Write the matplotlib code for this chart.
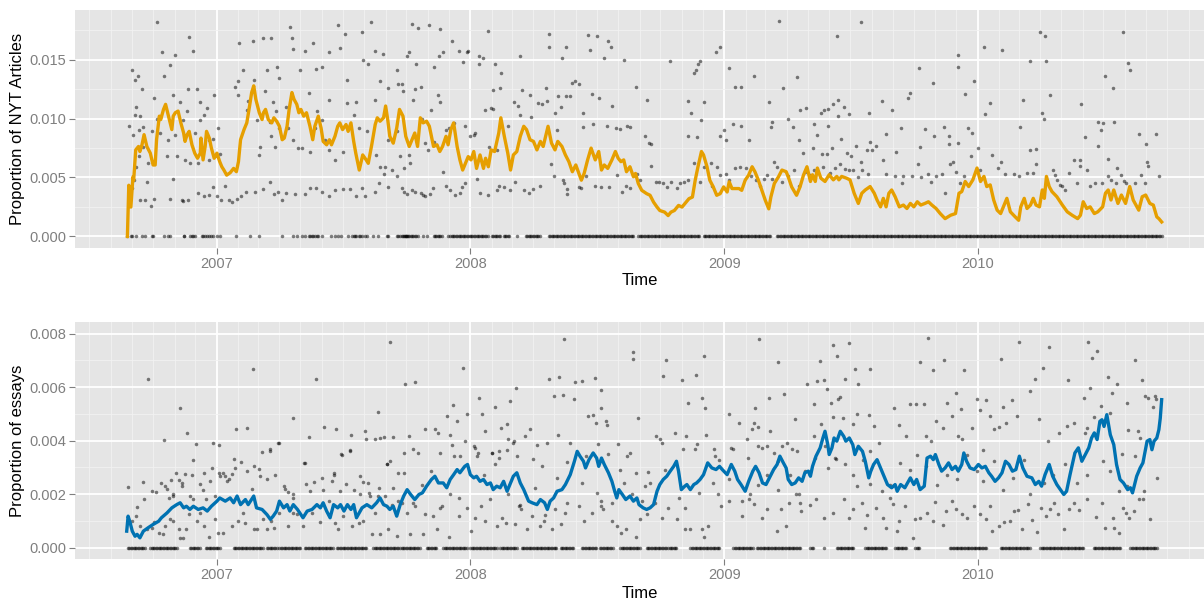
import numpy as np
import matplotlib
matplotlib.use("Agg")
import matplotlib.pyplot as plt
import matplotlib.dates as mdates

plt.rcParams['font.family'] = ['Liberation Sans', 'DejaVu Sans']

# day offsets are counted from this date, proportions are stored per mille
START = "2006-08-24"

# ---- top panel: NYT articles ----
nyt_line = [
    (1, 0), (3, 4.34), (6, 2.49), (9, 5.06), (10, 4.77), (13, 7.34), (17, 7.63), (19, 7.2), (22, 7.77),
    (25, 8.63), (29, 7.63), (34, 7.06), (38, 6.06), (41, 6.06), (43, 8.2), (47, 10.2), (49, 9.91),
    (53, 10.77), (56, 11.2), (59, 10.49), (62, 9.77), (65, 9.06), (67, 10.2), (70, 10.49), (74, 10.63),
    (78, 9.63), (82, 8.77), (84, 8.06), (87, 8.63), (90, 8.91), (94, 7.77), (98, 7.06), (102, 6.63),
    (106, 7.06), (107, 8.34), (110, 6.49), (113, 7.63), (115, 8.91), (119, 8.34), (122, 7.49), (126, 6.63),
    (130, 7.06), (134, 6.34), (137, 5.91), (140, 5.63), (144, 5.2), (149, 5.4), (154, 5.77), (158, 5.49),
    (161, 6.34), (164, 8.2), (169, 9.06), (173, 9.63), (177, 11.06), (180, 12.2), (183, 12.77), (186, 11.63),
    (191, 10.49), (195, 9.91), (197, 10.49), (200, 10.77), (204, 9.91), (209, 9.63), (212, 10.06), (216, 9.77),
    (220, 9.34), (224, 8.2), (227, 8.34), (231, 9.34), (234, 10.77), (238, 12.2), (241, 11.63), (245, 11.2),
    (248, 10.49), (251, 10.77), (255, 10.2), (259, 10.49), (264, 9.34), (268, 8.2), (271, 9.34), (276, 10.2),
    (280, 9.2), (283, 8.06), (288, 7.77), (292, 8.2), (295, 7.77), (300, 8.49), (304, 9.34), (307, 9.63),
    (311, 9.06), (316, 9.49), (319, 8.91), (323, 9.63), (327, 8.06), (330, 7.06), (335, 5.63), (340, 6.91),
    (345, 6.49), (348, 6.2), (353, 7.77), (358, 9.49), (361, 10.06), (365, 9.77), (370, 10.06), (373, 11.06),
    (376, 9.91), (379, 8.49), (384, 7.91), (389, 9.2), (393, 10.77), (398, 10.2), (402, 8.49), (407, 7.63),
    (411, 8.2), (415, 8.77), (419, 7.63), (423, 10.06), (427, 9.63), (432, 9.77), (436, 9.34), (442, 7.63),
    (447, 7.77), (451, 7.2), (455, 7.63), (460, 8.49), (463, 7.77), (467, 9.06), (471, 9.63), (476, 7.63),
    (480, 6.49), (484, 5.63), (488, 6.2), (492, 6.77), (496, 6.49), (500, 7.2), (504, 5.77), (509, 6.91),
    (514, 5.77), (517, 6.63), (521, 5.91), (525, 7.34), (530, 7.2), (536, 8.77), (539, 10.06), (544, 8.49),
    (549, 7.06), (553, 5.63), (557, 6.91), (562, 7.2), (567, 8.49), (572, 9.34), (576, 9.06), (581, 8.2),
    (586, 8.06), (591, 7.34), (596, 8.06), (600, 7.63), (607, 9.34), (612, 7.91), (617, 7.34), (621, 8.06),
    (627, 7.63), (632, 6.91), (637, 6.34), (642, 5.49), (647, 6.06), (655, 4.77), (659, 5.34), (664, 6.49),
    (669, 7.49), (675, 6.49), (680, 7.2), (684, 5.63), (688, 6.06), (693, 5.77), (699, 6.49), (704, 7.2),
    (708, 6.63), (712, 6.34), (716, 6.49), (720, 5.49), (725, 5.91), (730, 5.06), (733, 5.34), (737, 4.49),
    (742, 3.91), (749, 3.63), (754, 3.49), (759, 2.91), (764, 2.49), (768, 2.2), (775, 2.06), (780, 1.77),
    (784, 2.06), (789, 2.2), (795, 2.63), (800, 2.49), (804, 2.77), (810, 3.2), (815, 3.34), (819, 4.77),
    (823, 5.91), (828, 7.2), (831, 6.91), (836, 5.91), (840, 4.77), (845, 4.2), (850, 3.49), (855, 3.63),
    (860, 4.2), (865, 3.77), (868, 4.63), (872, 4.06), (877, 4.06), (882, 4.06), (886, 3.91), (891, 4.77),
    (896, 5.2), (901, 5.91), (905, 5.49), (910, 4.77), (915, 3.91), (920, 3.06), (925, 2.34), (928, 3.34),
    (933, 4.49), (939, 5.06), (944, 5.63), (950, 5.49), (953, 5.06), (958, 4.2), (965, 3.49), (970, 4.2),
    (975, 5.2), (980, 5.91), (985, 4.66), (988, 5.23), (992, 4.66), (995, 5.8), (1000, 4.94), (1006, 4.66),
    (1012, 5.23), (1018, 4.8), (1023, 5.09), (1026, 4.8), (1030, 5.09), (1037, 4.94), (1042, 4.8), (1048, 3.66),
    (1054, 2.8), (1059, 3.66), (1064, 3.94), (1071, 4.23), (1077, 3.66), (1081, 3.09), (1086, 2.51), (1090, 3.23),
    (1094, 2.51), (1098, 3.66), (1102, 3.94), (1107, 3.37), (1113, 2.51), (1119, 2.66), (1124, 2.37), (1129, 2.8),
    (1134, 2.51), (1139, 2.94), (1144, 2.66), (1150, 2.8), (1155, 2.94), (1160, 2.66), (1166, 2.37), (1172, 1.94),
    (1179, 1.51), (1187, 1.8), (1194, 1.94), (1199, 3.66), (1203, 3.8), (1208, 4.66), (1213, 4.23), (1219, 4.8),
    (1225, 5.8), (1230, 4.66), (1235, 5.09), (1239, 4.23), (1244, 4.37), (1249, 3.09), (1254, 2.23), (1259, 1.94),
    (1263, 2.51), (1268, 3.23), (1273, 2.09), (1280, 1.66), (1285, 1.37), (1288, 2.51), (1293, 3.23), (1297, 2.37),
    (1302, 2.66), (1306, 3.23), (1310, 2.66), (1315, 2.51), (1319, 3.94), (1322, 3.23), (1325, 5.09), (1329, 4.23),
    (1333, 3.8), (1340, 3.37), (1348, 2.66), (1355, 2.09), (1362, 1.8), (1370, 1.51), (1374, 1.8), (1378, 2.94),
    (1383, 2.37), (1388, 2.51), (1394, 1.94), (1399, 2.09), (1406, 2.51), (1410, 3.66), (1414, 3.94), (1418, 3.09),
    (1422, 3.94), (1428, 2.8), (1433, 3.51), (1439, 2.8), (1445, 4.23), (1450, 3.09), (1458, 2.23), (1463, 3.37),
    (1468, 3.51), (1474, 2.8), (1479, 2.66), (1484, 1.66), (1487, 1.51), (1491, 1.23),
]

nyt_points = [
    (44, 18.2), (51, 15.6), (70, 15.4), (90, 16.9), (96, 15.7), (62, 14.5), (54, 13.6), (8, 14.1), (12, 13.3),
    (16, 13.6), (22, 12.5), (39, 11.7), (67, 12.0), (77, 11.4), (88, 12.5), (101, 12.5), (106, 11.4), (126, 12.0),
    (116, 10.9), (13, 11.0), (12, 10.3), (19, 10.2), (4, 9.4), (9, 8.6), (18, 9.0), (23, 9.3), (36, 8.9), (43, 10.0),
    (48, 8.8), (60, 8.2), (70, 8.6), (81, 9.9), (87, 10.6), (99, 8.8), (105, 9.9), (111, 10.3), (118, 8.2),
    (125, 8.3), (132, 9.2), (24, 7.6), (31, 6.2), (18, 6.8), (14, 5.9), (29, 4.6), (58, 6.8), (72, 6.8), (84, 6.5),
    (91, 6.2), (103, 6.2), (118, 6.5), (130, 6.8), (135, 7.0),
    (7, 4.1), (11, 4.8), (19, 3.1), (26, 3.1), (35, 2.6), (40, 3.2), (62, 3.2), (67, 4.9), (79, 3.1), (81, 3.0),
    (89, 3.1), (103, 3.7), (111, 3.4), (119, 3.5), (125, 4.2), (130, 3.4), (136, 3.1), (142, 4.3), (147, 3.1),
    (151, 2.9), (159, 3.2), (164, 3.4),
    (162, 16.4), (182, 16.6), (197, 16.8), (208, 16.8), (235, 17.8), (238, 16.8), (240, 15.9), (257, 15.7),
    (269, 16.4), (305, 17.9), (315, 17.2), (339, 17.3), (352, 18.2), (307, 16.0), (291, 15.6), (341, 15.0),
    (348, 14.6), (358, 15.7), (369, 15.5),
    (160, 13.2), (168, 14.1), (183, 13.3), (202, 14.1), (216, 14.4), (220, 13.4), (250, 14.1), (273, 14.2),
    (281, 14.4), (317, 13.3), (365, 13.2), (389, 14.1),
    (156, 12.7), (161, 12.0), (175, 11.5), (199, 12.3), (211, 11.4), (215, 10.6), (230, 11.0), (262, 12.2),
    (274, 10.6), (291, 11.6), (317, 11.3), (331, 11.4), (358, 11.6), (377, 12.6), (391, 12.9),
    (174, 10.7), (187, 9.9), (192, 7.6), (190, 6.9), (206, 9.7), (208, 8.5), (214, 7.6), (219, 9.2), (233, 9.2),
    (240, 8.2), (247, 7.5), (252, 7.5), (264, 7.2), (271, 9.2), (281, 9.9), (286, 8.2), (291, 7.3), (300, 6.5),
    (312, 7.2), (327, 10.3), (334, 9.2), (346, 8.9), (359, 6.9), (365, 5.9), (372, 5.9), (377, 8.2), (389, 8.9),
    (172, 3.8), (185, 3.8), (197, 4.0), (207, 4.6), (212, 3.6), (218, 3.8), (223, 3.1), (230, 3.7), (243, 3.6),
    (257, 3.6), (264, 4.1), (273, 4.1), (282, 3.8), (291, 3.4), (300, 3.9), (311, 4.0), (321, 4.0), (330, 3.4),
    (339, 4.1), (343, 3.4), (358, 3.8), (363, 4.5), (370, 5.3), (376, 4.2), (382, 5.6), (389, 5.1),
    (411, 18.0), (420, 17.7), (436, 17.9), (452, 17.6), (468, 16.6), (443, 14.4), (456, 15.6), (450, 15.3),
    (478, 15.7), (490, 15.6), (492, 15.7), (485, 14.8), (508, 15.3), (513, 15.1), (508, 14.6), (520, 17.4),
    (531, 14.6), (539, 13.9), (566, 15.3), (608, 17.2), (608, 16.1), (627, 15.1), (633, 16.1), (665, 17.1),
    (677, 17.0), (668, 15.8), (694, 16.6), (697, 16.1), (687, 15.1), (716, 15.0), (734, 12.7), (750, 11.6),
    (782, 14.9), (808, 11.5), (817, 13.9), (820, 14.1), (823, 14.6), (826, 14.9), (849, 15.6), (855, 16.1),
    (867, 14.3), (877, 12.7), (885, 12.7), (903, 13.6), (940, 18.3), (946, 12.6), (966, 13.5),
    (396, 12.9), (398, 12.3), (404, 15.3), (407, 15.6), (416, 12.5), (417, 14.6), (424, 12.7),
    (394, 6.8), (406, 6.9), (408, 6.2), (425, 10.0), (430, 7.9), (434, 7.3), (439, 10.7), (442, 8.0), (448, 12.0),
    (451, 11.4), (455, 5.5), (460, 9.0), (464, 9.2), (471, 9.6), (488, 9.4), (495, 8.5), (500, 8.6), (502, 8.8),
    (516, 10.7), (525, 10.9), (527, 10.8), (528, 12.4), (538, 12.6), (522, 7.6), (533, 7.3), (549, 9.4),
    (558, 11.4), (564, 11.1), (570, 12.4), (581, 12.0), (583, 10.1), (567, 10.3), (592, 11.3), (599, 11.2),
    (604, 12.6), (605, 11.5), (617, 10.5), (621, 11.9), (625, 11.0), (620, 9.0), (633, 11.9), (638, 11.9),
    (641, 13.0), (646, 13.2), (651, 12.9), (658, 10.5), (657, 9.3), (672, 9.5), (671, 12.1), (681, 11.7),
    (692, 9.4), (699, 11.1), (705, 9.2), (710, 9.1), (721, 9.4), (725, 9.3), (747, 8.5), (752, 7.9), (755, 7.8),
    (808, 8.5), (813, 10.5), (821, 8.4), (828, 9.9), (831, 11.4), (842, 6.2), (855, 8.5), (861, 9.0), (863, 8.2),
    (873, 9.5), (885, 9.4), (896, 8.2), (925, 11.4), (928, 9.3), (930, 9.7), (952, 10.0), (960, 9.3), (969, 8.2),
    (399, 5.8), (413, 11.6),
    (396, 4.1), (399, 3.8), (404, 3.6), (411, 3.9), (416, 3.8), (424, 3.7), (427, 3.5), (430, 3.4), (437, 3.6),
    (441, 4.1), (460, 4.3), (466, 3.9), (473, 3.5), (480, 3.7), (483, 4.2), (488, 4.5), (505, 4.9), (509, 3.7),
    (521, 3.5), (533, 3.9), (537, 4.3), (543, 4.2), (552, 3.9), (560, 4.6), (572, 3.9), (579, 3.7), (585, 4.0),
    (596, 4.3), (611, 6.1), (615, 5.1), (628, 4.8), (630, 4.5), (634, 4.0), (635, 3.6), (652, 4.2), (655, 4.1),
    (662, 5.1), (674, 4.3), (684, 4.2), (695, 4.2), (707, 5.2), (713, 3.8), (720, 4.3), (725, 4.1), (735, 5.3),
    (740, 4.8), (756, 6.0), (762, 4.6), (767, 4.6), (773, 4.5), (778, 4.2), (784, 4.6), (793, 4.1), (797, 4.5),
    (803, 4.6), (808, 4.8), (817, 6.2), (826, 4.6), (831, 5.9), (843, 4.3), (850, 5.9), (855, 5.2), (863, 5.3),
    (867, 4.8), (877, 5.8), (884, 5.9), (892, 5.8), (900, 5.1), (906, 4.8), (913, 4.3), (918, 4.9), (923, 5.2),
    (930, 4.9), (933, 6.3), (937, 5.9), (944, 4.6), (952, 5.1), (961, 5.6), (968, 4.3),
    (1023, 17.0), (1058, 18.2), (1141, 14.3), (1161, 13.0), (1197, 15.4), (1198, 14.4), (1235, 16.1),
    (1261, 15.8), (1302, 14.9), (1316, 17.3), (1323, 17.0), (1324, 14.9), (1435, 17.3), (1443, 14.7),
    (1445, 14.1), (1410, 13.6), (1421, 12.6), (1221, 13.2), (1207, 12.1), (1243, 11.3), (1237, 10.4),
    (1291, 11.6), (1330, 12.0), (1319, 10.5), (1321, 10.0), (1375, 11.2), (1128, 12.2), (1126, 11.7),
    (1088, 11.5), (1103, 10.7), (1069, 10.5), (1041, 10.4), (1025, 11.6), (1033, 11.0), (1025, 10.2),
    (1017, 11.2), (1011, 10.8), (1005, 10.7), (1000, 10.5), (979, 10.9), (970, 10.7), (990, 9.5), (995, 8.6),
    (1010, 9.4), (974, 7.1), (988, 7.5), (1001, 7.0), (1009, 7.0), (1016, 7.5), (1029, 8.3), (1051, 7.7),
    (1038, 7.1), (1044, 6.8), (1058, 6.3), (1071, 8.0), (1066, 7.3), (1080, 7.7), (1073, 7.3), (1090, 6.5),
    (1094, 8.7), (1108, 7.2), (1116, 9.2), (1143, 7.6), (1150, 9.1), (1163, 8.5), (1178, 9.3), (1184, 8.5),
    (1184, 7.8), (1190, 6.3), (1198, 7.9), (1212, 9.2), (1218, 8.8), (1216, 6.8), (1227, 7.5), (1247, 6.9),
    (1260, 6.3), (1287, 9.3), (1302, 7.3), (1310, 7.4), (1310, 6.1), (1365, 6.5), (1373, 6.5), (1381, 8.4),
    (1399, 9.7), (1406, 9.6), (1399, 7.7), (1403, 9.0), (1422, 9.7), (1413, 6.6), (1458, 8.7), (1469, 7.8),
    (1470, 6.3), (1471, 6.0), (1483, 8.7),
    (977, 5.5), (985, 5.2), (990, 5.6), (1003, 5.9), (1013, 5.4), (1021, 5.8), (1028, 6.1), (1035, 5.7),
    (1041, 5.6), (1046, 5.6), (1054, 5.0), (1060, 5.6), (1068, 5.3), (1094, 5.3), (1107, 5.1), (1117, 4.5),
    (1118, 5.1), (1132, 5.1), (1140, 6.1), (1145, 5.0), (1154, 5.3), (1159, 4.6), (1166, 5.1), (1174, 5.3),
    (1179, 3.7), (1186, 6.1), (1195, 5.5), (1200, 4.5), (1206, 5.1), (1230, 5.6), (1255, 5.8), (1266, 5.3),
    (1278, 5.3), (1285, 5.1), (1297, 5.4), (1305, 5.4), (1320, 3.9), (1334, 5.6), (1338, 5.2), (1340, 4.8),
    (1344, 4.4), (1347, 4.3), (1352, 3.9), (1358, 5.4), (1369, 4.5), (1374, 6.0), (1384, 5.6), (1388, 4.3),
    (1395, 4.5), (1405, 4.5), (1413, 5.1), (1418, 4.8), (1425, 4.5), (1427, 5.8), (1433, 5.2), (1437, 4.7),
    (1440, 4.5), (1452, 4.5), (1461, 5.2), (1467, 4.5), (1487, 5.1),
]

# days with a value of zero: single days, and runs of zero days (drawn every other day)
nyt_zero_days = [1, 6, 7, 13, 22, 26, 36, 38, 53, 60, 62, 82, 83, 91, 94, 96, 98, 108, 110, 113, 115, 118, 121,
                 125, 130, 134, 158, 177, 190, 223, 240, 245, 252, 257, 262, 264, 267, 269, 271, 274, 276, 281,
                 295, 300, 305, 308, 319, 324, 327, 329, 331, 334, 336, 339, 343, 346, 355, 362, 375, 377, 389,
                 391, 420, 427, 433, 463, 562]
nyt_zero_runs = [(394, 405), (401, 415), (409, 418), (442, 454), (466, 485), (470, 492), (490, 521),
                 (526, 538), (543, 552), (575, 596), (608, 730), (737, 826), (831, 927), (937, 1491)]

# ---- bottom panel: essays ----
essay_line = [
    (0, 0.62), (2, 1.18), (5, 0.93), (8, 0.62), (12, 0.43), (15, 0.5), (19, 0.37), (24, 0.62), (31, 0.75),
    (38, 0.87), (46, 0.99), (50, 1.12), (58, 1.3), (65, 1.49), (72, 1.61), (77, 1.68), (82, 1.49), (86, 1.55),
    (91, 1.43), (96, 1.55), (103, 1.43), (110, 1.49), (116, 1.37), (122, 1.55), (130, 1.74), (134, 1.86),
    (142, 1.74), (149, 1.86), (154, 1.68), (159, 1.93), (164, 1.61), (171, 1.8), (175, 1.61), (183, 1.93),
    (187, 1.49), (195, 1.43), (202, 1.24), (207, 1.06), (211, 1.18), (216, 1.37), (220, 1.74), (226, 1.49),
    (231, 1.61), (235, 1.37), (240, 1.61), (246, 1.43), (254, 1.12), (260, 1.37), (267, 1.43), (274, 1.61),
    (279, 1.49), (283, 1.68), (288, 1.37), (293, 1.12), (298, 1.61), (304, 1.49), (308, 1.61), (313, 1.37),
    (318, 1.61), (323, 1.43), (327, 1.61), (331, 1.12), (339, 1.49), (346, 1.61), (353, 1.49), (360, 1.68),
    (365, 1.86), (370, 1.61), (375, 1.55), (379, 1.43), (384, 1.55), (389, 1.18), (394, 1.61), (399, 1.93),
    (404, 2.17), (409, 1.99), (415, 1.8), (421, 1.99), (426, 2.05), (432, 2.3), (439, 2.55), (444, 2.67),
    (449, 2.42), (456, 2.42), (461, 2.24), (466, 2.55), (471, 2.73), (476, 2.92), (480, 2.8), (487, 3.04),
    (491, 3.11), (495, 2.73), (500, 2.61), (504, 2.67), (509, 2.48), (514, 2.55), (519, 2.36), (524, 2.42),
    (528, 2.17), (533, 2.3), (538, 2.24), (543, 2.48), (548, 2.11), (552, 2.36), (557, 2.67), (562, 2.8),
    (567, 2.42), (572, 2.17), (575, 1.99), (579, 1.74), (584, 1.68), (591, 1.61), (596, 1.8), (602, 1.68),
    (606, 1.43), (610, 1.74), (615, 1.86), (620, 2.11), (627, 2.17), (632, 2.36), (639, 2.73), (645, 3.23),
    (649, 3.6), (653, 3.42), (658, 3.23), (661, 2.98), (666, 3.29), (672, 3.54), (677, 3.35), (680, 3.04),
    (684, 3.35), (688, 3.11), (694, 2.8), (699, 2.48), (703, 2.11), (706, 1.86), (709, 2.17), (714, 1.99),
    (719, 1.8), (725, 1.93), (730, 1.74), (735, 1.86), (738, 1.61), (744, 1.49), (749, 1.43), (754, 1.49),
    (759, 1.61), (764, 2.11), (768, 2.36), (773, 2.55), (778, 2.67), (783, 2.86), (788, 3.04), (792, 3.23),
    (795, 2.86), (799, 2.17), (804, 2.3), (807, 2.36), (812, 2.17), (817, 2.36), (821, 2.42), (826, 2.55),
    (831, 2.73), (837, 3.17), (843, 2.98), (849, 2.92), (854, 3.04), (858, 2.92), (865, 2.73), (871, 3.11),
    (876, 2.86), (880, 2.55), (885, 2.36), (891, 2.11), (896, 2.48), (902, 2.86), (906, 3.04), (911, 2.8),
    (916, 2.42), (921, 2.36), (927, 2.67), (932, 2.92), (937, 3.11), (941, 3.42), (946, 3.17), (950, 2.98),
    (953, 2.55), (958, 2.36), (963, 2.42), (968, 2.61), (973, 2.48), (977, 2.8), (982, 2.86), (985, 2.67),
    (988, 3.04), (993, 3.42), (999, 3.73), (1003, 4.1), (1006, 4.35), (1010, 3.85), (1012, 3.48), (1016, 3.73),
    (1019, 4.1), (1023, 3.98), (1028, 4.35), (1033, 4.16), (1036, 3.98), (1041, 4.1), (1046, 3.85), (1049, 3.48),
    (1054, 3.79), (1060, 3.6), (1064, 3.23), (1069, 2.61), (1072, 2.86), (1076, 3.11), (1081, 3.29), (1085, 3.04),
    (1090, 2.73), (1096, 2.36), (1102, 2.24), (1107, 2.36), (1110, 2.11), (1115, 2.36), (1121, 2.24), (1129, 2.61),
    (1134, 2.36), (1138, 2.55), (1143, 2.17), (1149, 2.3), (1153, 3.35), (1158, 3.42), (1162, 3.29), (1165, 3.48),
    (1170, 3.11), (1174, 2.86), (1179, 2.98), (1184, 3.17), (1189, 2.92), (1194, 3.04), (1198, 2.86), (1203, 3.11),
    (1206, 3.54), (1210, 3.23), (1215, 2.98), (1221, 2.92), (1227, 3.11), (1232, 2.98), (1237, 3.04), (1242, 2.8),
    (1246, 2.67), (1251, 2.48), (1256, 2.61), (1261, 2.8), (1266, 3.23), (1271, 3.11), (1276, 2.86), (1281, 2.92),
    (1286, 3.42), (1291, 2.98), (1297, 2.67), (1304, 2.61), (1309, 2.36), (1314, 2.48), (1318, 2.3), (1323, 2.73),
    (1329, 3.11), (1334, 2.67), (1340, 2.36), (1350, 1.99), (1354, 2.11), (1359, 2.73), (1366, 3.54), (1371, 3.73),
    (1376, 3.23), (1381, 3.48), (1386, 3.73), (1390, 4.1), (1394, 4.29), (1398, 4.04), (1402, 4.72), (1405, 4.78),
    (1408, 4.53), (1412, 4.97), (1417, 4.22), (1422, 3.85), (1426, 3.11), (1431, 2.55), (1436, 2.42), (1442, 2.17),
    (1446, 2.24), (1449, 2.05), (1455, 2.67), (1460, 2.98), (1464, 3.17), (1470, 3.98), (1474, 4.04), (1477, 3.66),
    (1480, 3.98), (1484, 4.1), (1487, 4.41), (1489, 4.84), (1491, 5.53),
]

essay_points = [
    (30, 6.29), (77, 5.2), (87, 4.27), (100, 3.86), (95, 3.28), (125, 3.93), (133, 3.83), (158, 4.45), (174, 4.49),
    (164, 3.21), (182, 6.69), (180, 2.18), (195, 3.59), (207, 3.7), (219, 3.93), (239, 4.86), (263, 4.14),
    (273, 6.29), (284, 4.51), (302, 4.45), (298, 2.79), (308, 3.51), (321, 3.64), (323, 4.2), (343, 4.36),
    (345, 4.05), (358, 4.05), (362, 5.07), (365, 4.11), (370, 4.15), (379, 3.24), (379, 7.69), (383, 4.15),
    (375, 3.12), (391, 2.78),
    (2, 2.28), (15, 1.53), (23, 2.47), (25, 1.81), (36, 2.12), (42, 2.08), (50, 2.43), (54, 4.02), (58, 2.18),
    (61, 1.87), (64, 2.52), (66, 1.93), (71, 2.8), (75, 2.52), (79, 2.31), (84, 2.74), (91, 1.93), (95, 1.81),
    (105, 2.37), (111, 2.8), (114, 1.81), (120, 2.49), (123, 2.99), (127, 1.93), (133, 2.8), (138, 2.8),
    (142, 2.68), (147, 2.55), (151, 2.74), (154, 3.3), (183, 3.05), (191, 2.93), (202, 2.55), (214, 2.7),
    (228, 2.18), (233, 2.09), (240, 1.87), (256, 3.18), (259, 2.37), (270, 2.45), (282, 2.62), (296, 2.49),
    (307, 2.12), (316, 2.37), (328, 2.14), (336, 2.68), (340, 2.45), (349, 2.06), (351, 1.93), (362, 1.93),
    (372, 1.93), (384, 2.24), (391, 1.74),
    (7, 1.0), (14, 1.18), (19, 0.81), (29, 0.69), (36, 0.75), (39, 0.96), (46, 0.56), (52, 0.5), (55, 0.81),
    (62, 1.08), (67, 1.0), (75, 0.69), (77, 0.37), (81, 0.37), (86, 0.69), (90, 1.25), (101, 1.0), (106, 1.31),
    (111, 0.81), (118, 0.41), (127, 1.06), (132, 0.54), (139, 0.54), (151, 0.81), (161, 1.0), (168, 1.31),
    (171, 0.93), (183, 0.69), (187, 0.69), (197, 1.06), (202, 0.69), (208, 1.0), (212, 0.75), (220, 1.31),
    (232, 0.81), (240, 1.31), (246, 1.25), (254, 0.81), (267, 1.31), (279, 0.96), (291, 1.74), (300, 0.93),
    (305, 0.69), (312, 1.18), (324, 0.81), (334, 0.93), (341, 1.0), (353, 0.5), (358, 1.31), (365, 0.5),
    (377, 0.69), (389, 0.44),
    (55, 2.3), (67, 1.99), (79, 2.42), (94, 2.73), (110, 2.17), (134, 2.67), (144, 2.48), (156, 2.98), (173, 2.86),
    (192, 2.67), (207, 3.6), (218, 3.91), (226, 2.3), (240, 1.99), (257, 3.17), (264, 2.11), (283, 2.17),
    (298, 2.73), (310, 3.48), (322, 3.6), (336, 1.99), (348, 2.42), (363, 2.24), (375, 3.11), (382, 1.61),
    (399, 2.8), (413, 1.68), (425, 2.36), (439, 2.86), (451, 1.49), (466, 1.99), (471, 3.42), (478, 1.86),
    (401, 6.1), (415, 6.19), (484, 6.73), (507, 5.61), (530, 5.27), (561, 5.98), (552, 5.48), (609, 6.32),
    (623, 6.39), (630, 7.81), (615, 5.67), (629, 5.69), (646, 6.19), (656, 6.23), (675, 6.33), (683, 5.88),
    (665, 4.92), (672, 4.95), (684, 5.2), (644, 5.55), (729, 7.31), (730, 7.04), (737, 4.86), (772, 6.42),
    (777, 7.02), (800, 6.27), (820, 6.44), (832, 7.17), (829, 5.58), (808, 5.42), (833, 5.21), (867, 4.98),
    (905, 5.2), (911, 7.81), (938, 6.94), (925, 5.61), (947, 5.73), (963, 4.82),
    (406, 4.17), (400, 3.55), (413, 3.68), (419, 3.53), (430, 4.45), (444, 4.42), (448, 4.27), (452, 3.55),
    (462, 4.92), (468, 3.84), (470, 5.32), (476, 4.74), (466, 4.2), (480, 3.43), (488, 3.99), (490, 4.98),
    (501, 3.8), (506, 3.55), (512, 4.98), (516, 4.36), (526, 3.55), (531, 3.12), (536, 3.61), (539, 4.49),
    (548, 4.61), (550, 4.05), (558, 3.99), (562, 3.43), (574, 4.17), (581, 4.42), (586, 3.3), (591, 3.83),
    (598, 3.05), (605, 3.93), (622, 4.2), (634, 3.2), (639, 3.93), (662, 3.43), (676, 4.67), (679, 3.86),
    (690, 4.74), (692, 4.57), (694, 3.49), (708, 3.86), (721, 3.43), (725, 3.55), (734, 2.78), (751, 2.83),
    (763, 4.17), (768, 4.07), (771, 3.93), (790, 4.27), (801, 3.68), (806, 4.17), (818, 3.7), (821, 3.86),
    (834, 4.2), (846, 3.68), (848, 3.43), (853, 3.28), (870, 3.74), (874, 3.7), (882, 4.67), (894, 4.05),
    (895, 3.36), (901, 4.42), (903, 4.67), (909, 4.5), (910, 3.8), (915, 3.74), (922, 3.8), (927, 4.36),
    (932, 3.55), (939, 3.24), (944, 3.8), (951, 3.93), (958, 3.68), (966, 3.61),
    (502, 3.73), (504, 3.42), (515, 2.73), (526, 3.54), (536, 3.35), (548, 3.66), (557, 3.91), (550, 1.99),
    (566, 1.61), (568, 1.43), (588, 2.24), (603, 1.24), (620, 2.61), (632, 1.3), (656, 2.42), (677, 2.05),
    (684, 1.55), (699, 1.68), (710, 2.92), (716, 2.42), (728, 1.99), (742, 1.74), (747, 2.3), (754, 2.42),
    (776, 2.92), (795, 1.86), (805, 1.49), (824, 2.05), (845, 2.42), (852, 1.99), (867, 2.55), (886, 1.74),
    (898, 1.99), (910, 2.36), (922, 2.73), (939, 2.17), (956, 2.73), (968, 1.99), (977, 2.86),
    (396, 1.68), (404, 1.31), (408, 0.5), (416, 1.56), (427, 0.5), (430, 1.25), (441, 1.18), (447, 0.69),
    (454, 1.56), (465, 0.4), (479, 1.18), (490, 1.5), (496, 0.62), (502, 1.12), (510, 1.56), (516, 1.0),
    (524, 1.81), (533, 0.81), (541, 1.12), (547, 0.93), (560, 0.87), (565, 1.56), (577, 0.69), (584, 1.18),
    (595, 0.81), (601, 1.0), (613, 0.69), (617, 1.43), (626, 0.87), (634, 1.68), (651, 1.56), (659, 1.0),
    (671, 1.31), (683, 1.74), (686, 1.43), (699, 1.0), (707, 0.81), (712, 0.56), (720, 0.69), (733, 0.41),
    (740, 1.06), (749, 1.25), (761, 1.68), (771, 1.12), (780, 1.5), (793, 1.06), (804, 0.69), (811, 0.69),
    (829, 0.69), (831, 0.41), (838, 0.81), (856, 1.56), (867, 1.74), (886, 1.18), (897, 1.81), (904, 1.62),
    (915, 1.12), (923, 1.43), (937, 0.62), (942, 1.46), (950, 0.81), (954, 1.68), (964, 1.99),
    (999, 6.98), (1018, 7.58), (1023, 7.17), (1040, 7.66), (1049, 6.67), (1071, 6.67), (1154, 7.85),
    (1143, 6.94), (1162, 6.64), (1178, 7.02), (1206, 6.63), (1259, 7.04), (1286, 7.69), (1308, 6.32),
    (1320, 6.73), (1329, 7.48), (1356, 6.27), (1385, 7.69), (1390, 7.08), (1398, 7.34), (1414, 6.36),
    (1452, 7.0), (1462, 6.27),
    (980, 6.13), (995, 6.23), (1005, 6.27), (1009, 5.94), (990, 5.36), (1014, 5.42), (1025, 5.55), (1027, 5.64),
    (1035, 6.29), (1054, 6.11), (1017, 4.88), (1032, 4.86), (1052, 4.98), (1069, 4.95), (1076, 4.55),
    (1047, 4.61), (1000, 4.61), (990, 4.17), (1006, 3.8), (1022, 3.33), (1084, 3.93), (1106, 5.23), (1113, 4.57),
    (1123, 4.17), (1128, 5.36), (1137, 5.36), (1148, 5.36), (1152, 4.17), (1159, 3.99), (1166, 4.74),
    (1176, 4.49), (1182, 5.4), (1189, 4.92), (1195, 5.77), (1197, 4.17), (1202, 5.17), (1204, 4.05),
    (1225, 5.57), (1218, 4.49), (1230, 5.13), (1234, 3.65), (1238, 5.52), (1243, 4.92), (1250, 4.42),
    (1257, 4.52), (1262, 5.26), (1267, 4.65), (1276, 5.52), (1283, 4.92), (1302, 5.86), (1315, 4.8),
    (1327, 3.99), (1343, 4.3), (1355, 4.55), (1365, 4.65), (1379, 5.61), (1381, 4.3), (1384, 4.49), (1388, 5.98),
    (1393, 4.9), (1404, 5.3), (1417, 5.05), (1419, 5.79), (1426, 6.11), (1434, 3.49), (1441, 5.4), (1442, 4.4),
    (1457, 4.36), (1460, 4.11), (1467, 5.67), (1472, 5.61), (1478, 5.27), (1481, 5.67), (1483, 5.57),
    (992, 3.35), (1011, 2.98), (1021, 3.35), (1035, 3.11), (1047, 2.73), (1061, 3.29), (1071, 3.6), (1088, 2.11),
    (1100, 2.36), (1114, 3.17), (1128, 2.92), (1138, 3.48), (1151, 3.04), (1167, 2.36), (1182, 2.73),
    (1196, 2.55), (1210, 3.48), (1225, 2.86), (1234, 2.48), (1249, 3.23), (1263, 2.17), (1277, 2.61),
    (1292, 3.29), (1302, 1.99), (1321, 2.42), (1335, 2.73), (1352, 3.11), (1369, 2.42), (1383, 2.73),
    (1407, 3.23), (1416, 2.86), (1429, 2.11), (1441, 2.3), (1453, 3.42), (1465, 2.11), (1484, 2.61),
    (970, 1.68), (972, 1.37), (985, 1.58), (993, 1.83), (1005, 1.12), (1018, 1.31), (1034, 1.81), (1041, 1.12),
    (1046, 1.43), (1052, 2.31), (1059, 1.68), (1063, 0.75), (1066, 1.21), (1071, 2.37), (1080, 1.5), (1089, 1.12),
    (1094, 0.75), (1099, 1.87), (1104, 1.62), (1109, 0.62), (1112, 1.0), (1121, 1.56), (1133, 0.37), (1136, 1.06),
    (1143, 1.12), (1153, 1.31), (1162, 1.0), (1165, 1.71), (1176, 0.84), (1181, 1.37), (1189, 1.74), (1194, 1.43),
    (1203, 1.25), (1210, 1.12), (1220, 1.56), (1229, 1.25), (1238, 1.06), (1244, 1.56), (1246, 0.62), (1256, 0.81),
    (1264, 0.96), (1272, 1.0), (1278, 1.37), (1284, 1.41), (1290, 0.69), (1298, 1.62), (1304, 1.03), (1311, 0.59),
    (1317, 1.5), (1324, 1.18), (1330, 1.43), (1336, 1.66), (1341, 1.25), (1350, 0.69), (1357, 1.43), (1365, 1.68),
    (1372, 1.41), (1384, 1.81), (1396, 1.16), (1405, 1.66), (1410, 0.75), (1421, 1.12), (1423, 0.75),
    (1429, 0.56), (1436, 1.5), (1439, 1.31), (1444, 1.12), (1451, 1.37), (1458, 1.81), (1464, 1.83), (1474, 1.06),
]

essay_zero_runs = [(2, 26), (34, 72), (91, 106), (114, 134), (154, 197), (202, 216), (220, 250), (257, 298),
                   (303, 346), (355, 394), (396, 423), (432, 447), (456, 490), (495, 533), (538, 562), (569, 620),
                   (625, 644), (656, 677), (682, 701), (711, 740), (749, 778), (780, 793), (812, 855), (874, 903),
                   (908, 970), (985, 990), (1004, 1004), (1023, 1047), (1064, 1095), (1107, 1124), (1136, 1143),
                   (1186, 1239), (1259, 1302), (1316, 1379), (1393, 1431), (1446, 1484)]

year_ticks = ["2007-01-01", "2008-01-01", "2009-01-01", "2010-01-01"]

BASE = mdates.datestr2num(START)
GREY_BG = "#E5E5E5"
GREY_TXT = "#7F7F7F"


def to_xy(pairs):
    d, v = zip(*pairs)
    return BASE + np.array(d, dtype=float), np.array(v) / 1000.0


def style_panel(ax, ylim, major, minor, ylabel, xlabel_y):
    ax.set_facecolor(GREY_BG)
    for s in ax.spines.values():
        s.set_visible(False)
    ax.set_axisbelow(True)
    ax.set_xlim(BASE - 74.5, BASE + 1552)
    ax.set_ylim(*ylim)
    ax.set_yticks(major)
    ax.set_yticks(minor, minor=True)
    ax.yaxis.set_major_formatter(plt.FuncFormatter(lambda v, p: f"{v:.3f}"))
    ax.set_xticks([mdates.datestr2num(t) for t in year_ticks])
    ax.xaxis.set_major_formatter(mdates.DateFormatter("%Y"))
    ax.xaxis.set_minor_locator(mdates.MonthLocator())
    ax.grid(which="major", color="white", lw=1.3)
    ax.grid(which="minor", color="#F2F2F2", lw=0.6)
    ax.tick_params(which="major", length=4, width=0.8, color=GREY_TXT, labelcolor=GREY_TXT,
                   labelsize=10.5, pad=2.5)
    ax.tick_params(which="minor", length=0)
    ax.set_ylabel(ylabel, fontsize=12, color="black")
    ax.yaxis.set_label_coords(-0.044, 0.5)
    ax.set_xlabel("Time", fontsize=12, color="black")
    ax.xaxis.set_label_coords(0.5, xlabel_y)


fig = plt.figure(figsize=(12.04, 6.0), dpi=100)
ax1 = fig.add_axes([75 / 1204, 1 - 248 / 600, 1129 / 1204, 238 / 600])
ax2 = fig.add_axes([75 / 1204, 1 - 559 / 600, 1129 / 1204, 237 / 600])

dot = dict(s=6.5, color="black", alpha=0.5, linewidths=0, zorder=2)

# top panel
zx = np.concatenate([np.array(nyt_zero_days)] + [np.arange(a, b + 1, 2) for a, b in nyt_zero_runs])
zx = np.unique(zx)
ax1.scatter(BASE + zx, np.zeros(len(zx)), **dot)
px, py = to_xy(nyt_points)
ax1.scatter(px, py, **dot)
lx, ly = to_xy(nyt_line)
ax1.plot(lx, ly, color="#E69F00", lw=2.4, zorder=3, solid_joinstyle="round")
style_panel(ax1, (-0.00098, 0.0192), [0, 0.005, 0.010, 0.015], [0.0025, 0.0075, 0.0125, 0.0175],
            "Proportion of NYT Articles", -0.105)

# bottom panel
zx = np.concatenate([np.arange(a, b + 1, 2) for a, b in essay_zero_runs])
ax2.scatter(BASE + zx, np.zeros(len(zx)), **dot)
px, py = to_xy(essay_points)
ax2.scatter(px, py, **dot)
lx, ly = to_xy(essay_line)
ax2.plot(lx, ly, color="#0072B2", lw=2.4, zorder=3, solid_joinstyle="round")
style_panel(ax2, (-0.00042, 0.00843), [0, 0.002, 0.004, 0.006, 0.008], [0.001, 0.003, 0.005, 0.007],
            "Proportion of essays", -0.113)

fig.savefig("out.png", dpi=100)
